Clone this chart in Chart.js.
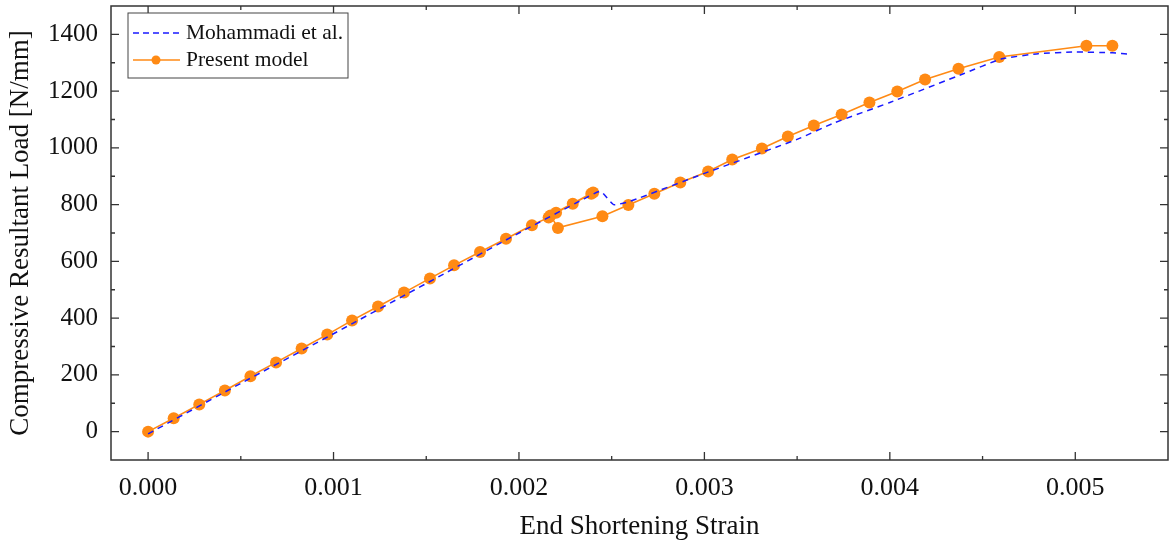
<!DOCTYPE html>
<html>
<head>
<meta charset="utf-8">
<script src="https://cdn.jsdelivr.net/npm/chart.js@4/dist/chart.umd.min.js"></script>
<style>
  html, body { margin: 0; padding: 0; background: #fff; }
  #wrap { width: 1170px; height: 543px; position: relative; }
</style>
</head>
<body>
<div id="wrap"><canvas id="chart" width="1170" height="543"></canvas></div>
<script>
// --- Dados ---
const presentStrain = [0, 0.000138, 0.000276, 0.000414, 0.000552, 0.00069, 0.000828, 0.000966, 0.0011, 0.00124,
  0.00138, 0.00152, 0.00165, 0.00179, 0.00193, 0.00207, 0.00216, 0.0022, 0.00229, 0.00239, 0.0024,
  0.00217, 0.00221, 0.00245, 0.00259, 0.00273, 0.00287, 0.00302, 0.00315, 0.00331, 0.00345, 0.00359,
  0.00374, 0.00389, 0.00404, 0.00419, 0.00437, 0.00459, 0.00506, 0.0052];
const presentLoad = [0, 47, 96, 145, 195, 244, 293, 342, 392, 441,
  490, 540, 586, 633, 680, 727, 755, 771, 803, 838, 843,
  762, 718, 759, 799, 838, 878, 917, 959, 998, 1040, 1079,
  1118, 1160, 1199, 1241, 1279, 1320, 1360, 1360];

const mohStrain = [0, 0.0005, 0.001, 0.0015, 0.002, 0.00235, 0.00244, 0.00251, 0.0026, 0.003,
  0.0035, 0.0037, 0.004, 0.0044, 0.0046, 0.0048, 0.005, 0.0052, 0.0053];
const mohLoad = [-8, 170, 345, 522, 700, 820, 847, 800, 812, 910,
  1030, 1088, 1160, 1262, 1313, 1332, 1338, 1335, 1330];

const xTicks = [0, 0.001, 0.002, 0.003, 0.004, 0.005];
const yTicks = [0, 200, 400, 600, 800, 1000, 1200, 1400];
const xMinor = [0.0005, 0.0015, 0.0025, 0.0035, 0.0045];
const yMinor = [100, 300, 500, 700, 900, 1100, 1300];

const ORANGE = '#ff8a14';
const BLUE = '#1a1aff';
const FONT = '"Liberation Serif", "Times New Roman", serif';
const AXIS = '#333';

const toPoints = (xs, ys) => xs.map((x, i) => ({ x, y: ys[i] }));

// --- Moldura, ticks internos e legenda ---
const framePlugin = {
  id: 'frame',
  afterDraw(chart) {
    const { ctx, chartArea: a, scales: { x, y } } = chart;
    ctx.save();
    ctx.strokeStyle = AXIS;
    ctx.lineWidth = 1.5;
    ctx.strokeRect(a.left, a.top, a.right - a.left, a.bottom - a.top);

    ctx.lineWidth = 1.3;
    ctx.beginPath();
    const tickX = (vals, len) => vals.forEach(v => {
      const px = x.getPixelForValue(v);
      ctx.moveTo(px, a.bottom); ctx.lineTo(px, a.bottom - len);
      ctx.moveTo(px, a.top); ctx.lineTo(px, a.top + len);
    });
    const tickY = (vals, len) => vals.forEach(v => {
      const py = y.getPixelForValue(v);
      ctx.moveTo(a.left, py); ctx.lineTo(a.left + len, py);
      ctx.moveTo(a.right, py); ctx.lineTo(a.right - len, py);
    });
    tickX(xTicks, 8); tickX(xMinor, 4);
    tickY(yTicks, 8); tickY(yMinor, 4);
    ctx.stroke();

    // legenda
    const bx = a.left + 17, by = a.top + 7, bw = 220, bh = 65;
    ctx.fillStyle = '#fff';
    ctx.fillRect(bx, by, bw, bh);
    ctx.strokeStyle = '#444';
    ctx.lineWidth = 1;
    ctx.strokeRect(bx, by, bw, bh);

    const rows = [
      { label: 'Mohammadi et al.', color: BLUE, dash: [6, 4], marker: false },
      { label: 'Present model', color: ORANGE, dash: [], marker: true }
    ];
    ctx.font = '21.5px ' + FONT;
    ctx.textBaseline = 'middle';
    rows.forEach((r, i) => {
      const cy = by + 20 + i * 27;
      ctx.strokeStyle = r.color;
      ctx.lineWidth = 1.5;
      ctx.setLineDash(r.dash);
      ctx.beginPath();
      ctx.moveTo(bx + 5, cy); ctx.lineTo(bx + 52, cy);
      ctx.stroke();
      ctx.setLineDash([]);
      if (r.marker) {
        ctx.fillStyle = r.color;
        ctx.beginPath();
        ctx.arc(bx + 28, cy, 4.5, 0, Math.PI * 2);
        ctx.fill();
      }
      ctx.fillStyle = '#111';
      ctx.fillText(r.label, bx + 58, cy);
    });
    ctx.restore();
  }
};

const ctx = document.getElementById('chart').getContext('2d');
new Chart(ctx, {
  type: 'scatter',
  data: {
    datasets: [
      {
        label: 'Mohammadi et al.',
        data: toPoints(mohStrain, mohLoad),
        showLine: true,
        borderColor: BLUE,
        borderWidth: 1.5,
        borderDash: [6, 5],
        pointRadius: 0,
        tension: 0.15
      },
      {
        label: 'Present model',
        data: toPoints(presentStrain, presentLoad),
        showLine: true,
        borderColor: ORANGE,
        backgroundColor: ORANGE,
        borderWidth: 1.6,
        pointRadius: 6,
        pointBorderWidth: 0,
        tension: 0
      }
    ]
  },
  options: {
    responsive: false,
    animation: false,
    layout: { autoPadding: false, padding: { top: 6, right: 2, left: 0, bottom: 0 } },
    plugins: { legend: { display: false }, tooltip: { enabled: false } },
    scales: {
      x: {
        type: 'linear',
        min: -0.0002,
        max: 0.0055,
        afterBuildTicks: s => { s.ticks = xTicks.map(v => ({ value: v })); },
        afterFit: s => { s.height = 83; s.paddingLeft = 0; s.paddingRight = 0; },
        grid: { display: false, drawTicks: false },
        border: { display: false },
        ticks: {
          padding: 13,
          color: '#111',
          font: { family: FONT, size: 26 },
          callback: v => v.toFixed(3)
        },
        title: {
          display: true,
          text: 'End Shortening Strain',
          color: '#111',
          font: { family: FONT, size: 27 },
          padding: { top: 7, bottom: 0 }
        }
      },
      y: {
        type: 'linear',
        min: -100,
        max: 1500,
        afterBuildTicks: s => { s.ticks = yTicks.map(v => ({ value: v })); },
        afterFit: s => { s.width = 111; s.paddingTop = 0; s.paddingBottom = 0; },
        grid: { display: false, drawTicks: false },
        border: { display: false },
        ticks: {
          padding: 13,
          color: '#111',
          font: { family: FONT, size: 25 },
          callback: v => String(v)
        },
        title: {
          display: true,
          text: 'Compressive Resultant Load [N/mm]',
          color: '#111',
          font: { family: FONT, size: 27 },
          padding: { top: 5, bottom: 0 }
        }
      }
    }
  },
  plugins: [framePlugin]
});
</script>
</body>
</html>
